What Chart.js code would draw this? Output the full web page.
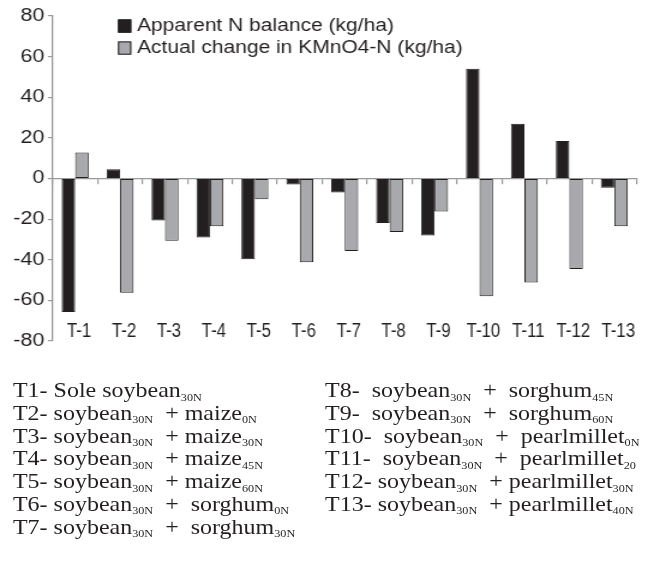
<!DOCTYPE html>
<html>
<head>
<meta charset="utf-8">
<script src="https://cdn.jsdelivr.net/npm/chart.js@4"></script>
<style>
  html, body { margin: 0; padding: 0; background: #fff; }
  #wrap { position: absolute; left: 0; top: 0; width: 540px; height: 355px; transform: scaleX(1.2); transform-origin: 0 0; }
  #chartBox { position: absolute; left: 0; top: 0; width: 540px; height: 355px; }
  #key { position: absolute; left: 0; top: 0; width: 595px; height: 583px; transform: scaleX(1.09); transform-origin: 0 0; }
  .col { position: absolute; top: 379px; font-family: "Liberation Serif", "Times New Roman", serif; font-size: 22px; line-height: 22.8px; color: #231f20; white-space: nowrap; }
  .col div { height: 22.8px; }
  .sub { font-size: 11.2px; position: relative; top: 3.5px; }
</style>
</head>
<body>
<div id="wrap">
  <div id="chartBox"><canvas id="c" width="540" height="355"></canvas></div>
</div>
<div id="key">
  <div class="col" id="colL" style="left:11.9px;"></div>
  <div class="col" id="colR" style="left:298.2px;"></div>
</div>
<script>
// ---- data ----
const categories = ['T-1','T-2','T-3','T-4','T-5','T-6','T-7','T-8','T-9','T-10','T-11','T-12','T-13'];
const apparentNBalance = [-65.7, 4.6, -20.7, -29.1, -39.8, -3.0, -6.9, -21.9, -28.1, 54.0, 26.9, 18.5, -4.6];
const actualChangeKMnO4 = [12.8, -56.3, -30.7, -23.5, -10.2, -41.2, -35.7, -26.3, -16.3, -58.0, -51.2, -44.5, -23.5];
const seriesLabels = ['Apparent N balance (kg/ha)', 'Actual change in KMnO4-N (kg/ha)'];
const yMin = -80, yMax = 80, yStep = 20;

// treatment key: [prefix, main1, sub1, main2, sub2]
const treatmentsLeft = [
  ['T1- ', 'Sole soybean', '30N', '', ''],
  ['T2- ', 'soybean', '30N', '  + maize', '0N'],
  ['T3- ', 'soybean', '30N', '  + maize', '30N'],
  ['T4- ', 'soybean', '30N', '  + maize', '45N'],
  ['T5- ', 'soybean', '30N', '  + maize', '60N'],
  ['T6- ', 'soybean', '30N', '  +  sorghum', '0N'],
  ['T7- ', 'soybean', '30N', '  +  sorghum', '30N']
];
const treatmentsRight = [
  ['T8-  ', 'soybean', '30N', '  +  sorghum', '45N'],
  ['T9-  ', 'soybean', '30N', '  +  sorghum', '60N'],
  ['T10-  ', 'soybean', '30N', '  +  pearlmillet', '0N'],
  ['T11-  ', 'soybean', '30N', '  +  pearlmillet', '20'],
  ['T12- ', 'soybean', '30N', '  + pearlmillet', '30N'],
  ['T13- ', 'soybean', '30N', '  + pearlmillet', '40N']
];

// ---- colours / styles ----
const DARK = '#231f20';
const GREY = '#a7a9ac';
const AXIS = '#999999';

function fillCol(el, rows) {
  rows.forEach(r => {
    const d = document.createElement('div');
    const esc = s => s.replace(/ /g, '\u00a0');
    d.innerHTML = esc(r[0]) + esc(r[1]) + '<span class="sub">' + r[2] + '</span>' +
      (r[3] ? esc(r[3]) + '<span class="sub">' + r[4] + '</span>' : '');
    el.appendChild(d);
  });
}
fillCol(document.getElementById('colL'), treatmentsLeft);
fillCol(document.getElementById('colR'), treatmentsRight);

const legendPlugin = {
  id: 'insideLegend',
  afterDraw(chart) {
    const ctx = chart.ctx;
    ctx.save();
    const x0 = 98.3, rowsY = [26, 48];
    chart.data.datasets.forEach((ds, i) => {
      const cy = rowsY[i];
      ctx.fillStyle = ds.backgroundColor;
      ctx.fillRect(x0, cy - 6.6, 11.1, 13.3);
      ctx.strokeStyle = DARK;
      ctx.lineWidth = 1;
      ctx.strokeRect(x0 + 0.5, cy - 6.1, 10.1, 12.3);
      ctx.fillStyle = DARK;
      ctx.font = '17.5px "Liberation Sans", Arial, sans-serif';
      ctx.textBaseline = 'middle';
      ctx.textAlign = 'left';
      ctx.fillText(ds.label, 114.2, cy + 0.5);
    });
    ctx.restore();
  }
};

const catLabelPlugin = {
  id: 'catLabels',
  afterDraw(chart) {
    const ctx = chart.ctx;
    const xs = chart.scales.x, ys = chart.scales.y;
    const yPix = ys.getPixelForValue(-75.5);
    ctx.save();
    ctx.fillStyle = DARK;
    ctx.font = '20px "Liberation Sans", Arial, sans-serif';
    ctx.textBaseline = 'middle';
    ctx.textAlign = 'center';
    chart.data.labels.forEach((lab, i) => {
      const x = xs.getPixelForValue(i) + 3.3;
      ctx.save();
      ctx.translate(x, yPix);
      ctx.scale(0.7, 1);
      ctx.fillText(lab, 0, 0);
      ctx.restore();
    });
    ctx.restore();
  }
};

new Chart(document.getElementById('c'), {
  type: 'bar',
  data: {
    labels: categories,
    datasets: [
      { label: seriesLabels[0], data: apparentNBalance, backgroundColor: DARK, borderColor: DARK, borderWidth: 1, borderSkipped: false },
      { label: seriesLabels[1], data: actualChangeKMnO4, backgroundColor: GREY, borderColor: DARK, borderWidth: 1, borderSkipped: false }
    ]
  },
  options: {
    responsive: false,
    animation: false,
    devicePixelRatio: 1,
    layout: { autoPadding: false, padding: { top: 16, bottom: 14, left: 0, right: 9.4 } },
    datasets: { bar: { categoryPercentage: 0.6, barPercentage: 1.0 } },
    plugins: { legend: { display: false }, tooltip: { enabled: false } },
    scales: {
      x: {
        type: 'category',
        position: { y: 0 },
        offset: true,
        grid: { display: true, drawOnChartArea: false, drawTicks: true, tickLength: 5, color: AXIS, lineWidth: 1.2, offset: true },
        border: { display: true, color: AXIS, width: 1.3 },
        ticks: { display: false }
      },
      y: {
        min: yMin, max: yMax,
        afterFit(scale) { scale.width = 43.9; },
        ticks: { stepSize: yStep, color: DARK, padding: 3, font: { family: '"Liberation Sans", Arial, sans-serif', size: 18 } },
        grid: { display: true, drawOnChartArea: false, drawTicks: true, tickLength: 4, color: AXIS, lineWidth: 1.2 },
        border: { display: true, color: AXIS, width: 1.3 }
      }
    }
  },
  plugins: [legendPlugin, catLabelPlugin]
});
</script>
</body>
</html>
